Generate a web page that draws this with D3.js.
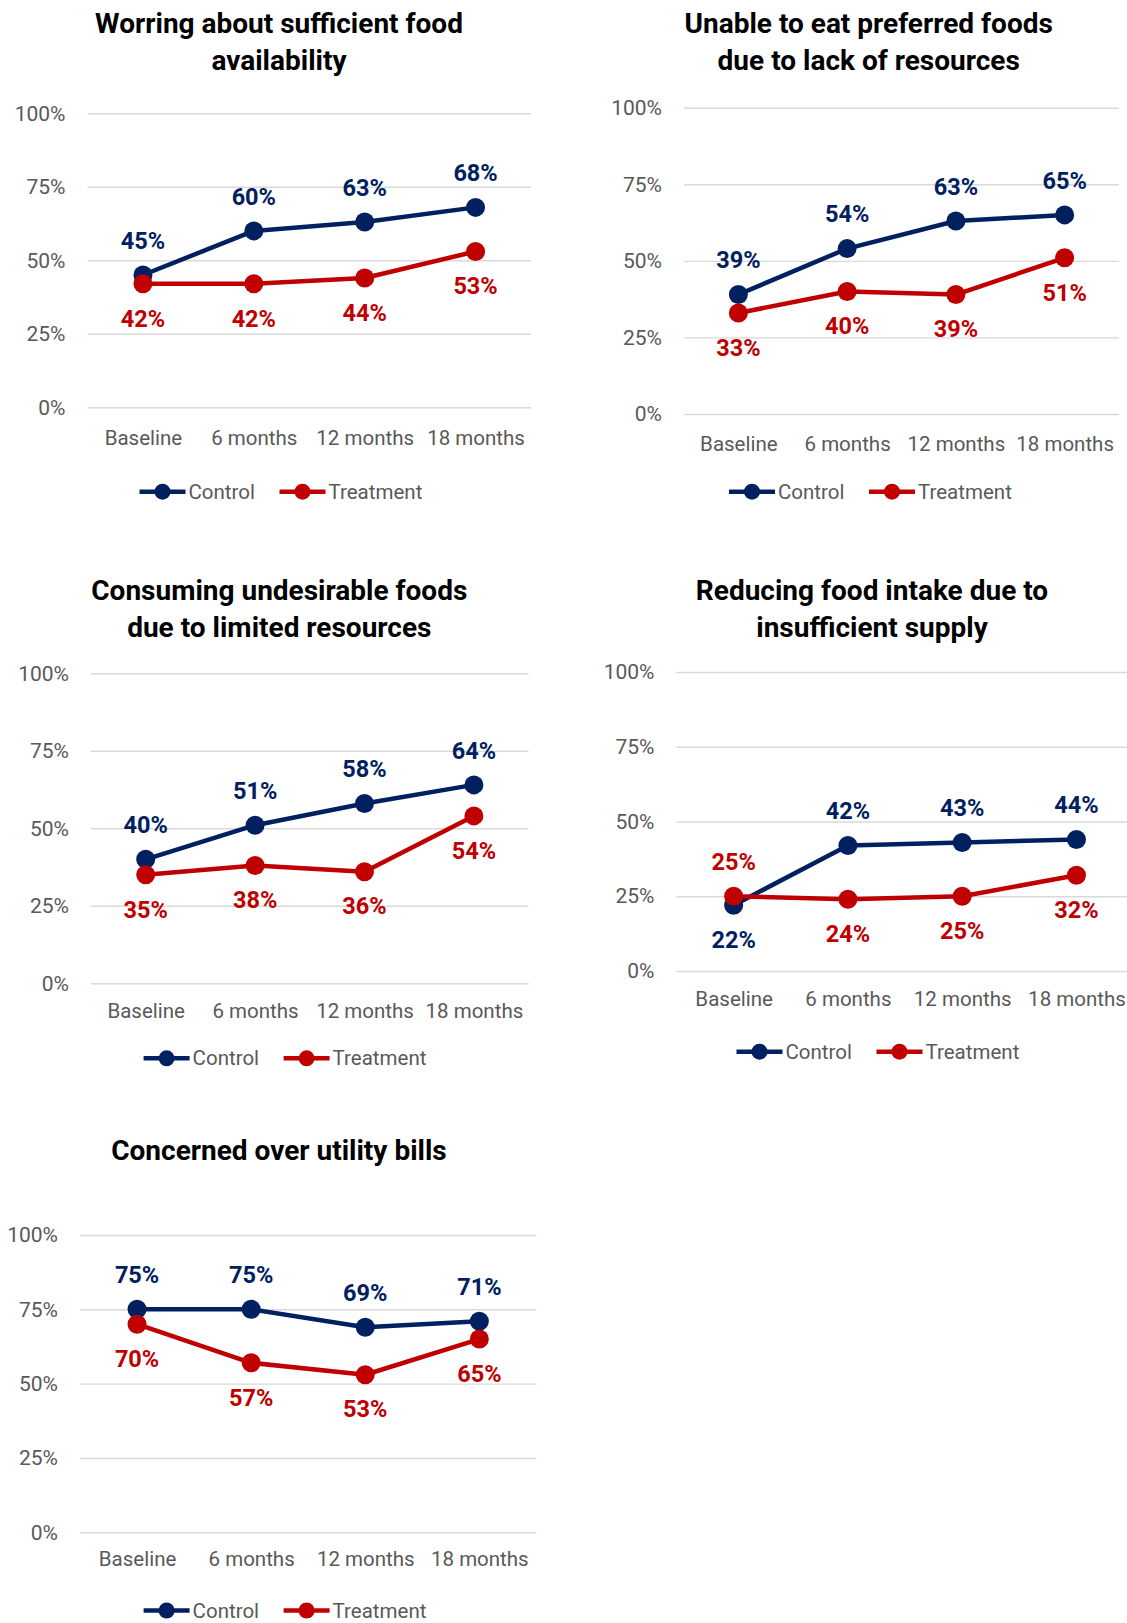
<!DOCTYPE html>
<html>
<head>
<meta charset="utf-8">
<script src="https://cdn.jsdelivr.net/npm/d3@7"></script>
<style>
  html, body { margin: 0; padding: 0; background: #ffffff; }
  svg { display: block; font-family: Roboto, "Noto Sans", sans-serif; }
</style>
</head>
<body>
<svg id="chart" width="1127" height="1623"></svg>
<script>
// Survey waves shown on every panel
const categories = ["Baseline", "6 months", "12 months", "18 months"];
const seriesNames = ["Control", "Treatment"];
const yTicks = [0, 25, 50, 75, 100];

// Panel titles (one entry per line)
const titleWorry = ["Worring about sufficient food", "availability"];
const titlePreferred = ["Unable to eat preferred foods", "due to lack of resources"];
const titleUndesirable = ["Consuming undesirable foods", "due to limited resources"];
const titleReducing = ["Reducing food intake due to", "insufficient supply"];
const titleUtility = ["Concerned over utility bills"];

// Share of respondents (%) per wave
const controlWorry = [45, 60, 63, 68];
const treatmentWorry = [42, 42, 44, 53];
const controlPreferred = [39, 54, 63, 65];
const treatmentPreferred = [33, 40, 39, 51];
const controlUndesirable = [40, 51, 58, 64];
const treatmentUndesirable = [35, 38, 36, 54];
const controlReducing = [22, 42, 43, 44];
const treatmentReducing = [25, 24, 25, 32];
const controlUtility = [75, 75, 69, 71];
const treatmentUtility = [70, 57, 53, 65];

const COLORS = { Control: "#002060", Treatment: "#C00000" };
const GRID = "#d9d9d9";
const AXIS_TEXT = "#595959";

// Layout of each small multiple
const panels = [
  { title: titleWorry, control: controlWorry, treatment: treatmentWorry,
    x0: 87.5, x1: 531, yTop: 113.3, yBottom: 407.3, catOffset: 30.5,
    titleX: 279, titleY: [23.5, 60.5], legendX: 139.5, legendY: 491.7, swapLabels: [] },
  { title: titlePreferred, control: controlPreferred, treatment: treatmentPreferred,
    x0: 684, x1: 1119, yTop: 107.7, yBottom: 414, catOffset: 29.5,
    titleX: 868.7, titleY: [23.5, 60.5], legendX: 729, legendY: 491.7, swapLabels: [] },
  { title: titleUndesirable, control: controlUndesirable, treatment: treatmentUndesirable,
    x0: 91, x1: 528.6, yTop: 673.3, yBottom: 983.3, catOffset: 27.5,
    titleX: 279.3, titleY: [590, 627], legendX: 143.6, legendY: 1058.3, swapLabels: [] },
  { title: titleReducing, control: controlReducing, treatment: treatmentReducing,
    x0: 676.5, x1: 1133.6, yTop: 672, yBottom: 971, catOffset: 28,
    titleX: 872, titleY: [590, 627], legendX: 736.5, legendY: 1051.7, swapLabels: [0] },
  { title: titleUtility, control: controlUtility, treatment: treatmentUtility,
    x0: 80, x1: 536.4, yTop: 1235, yBottom: 1532.3, catOffset: 27,
    titleX: 279, titleY: [1150], legendX: 143.6, legendY: 1610.5, swapLabels: [] }
];

const svg = d3.select("#chart");

panels.forEach(p => {
  const g = svg.append("g");

  const x = d3.scalePoint().domain(categories).range([p.x0, p.x1]).padding(0.5);
  const y = d3.scaleLinear().domain([0, 100]).range([p.yBottom, p.yTop]);

  // Title
  g.append("text")
    .attr("text-anchor", "middle")
    .attr("font-size", 28)
    .attr("font-weight", 700)
    .attr("fill", "#000")
    .selectAll("tspan")
    .data(p.title)
    .join("tspan")
      .attr("x", p.titleX)
      .attr("y", (d, i) => p.titleY[i])
      .attr("dy", "0.35em")
      .text(d => d);

  // Value axis with horizontal gridlines
  const yAxis = g.append("g")
    .attr("transform", `translate(${p.x0},0)`)
    .call(d3.axisLeft(y)
      .tickValues(yTicks)
      .tickFormat(d => d + "%")
      .tickSize(-(p.x1 - p.x0))
      .tickPadding(22));
  yAxis.select(".domain").remove();
  yAxis.selectAll(".tick line").attr("stroke", GRID).attr("stroke-width", 1.4);
  yAxis.selectAll(".tick text")
    .attr("font-size", 21).attr("fill", AXIS_TEXT)
    .attr("font-family", "Roboto, sans-serif");

  // Category axis
  const xAxis = g.append("g")
    .attr("transform", `translate(0,${p.yBottom})`)
    .call(d3.axisBottom(x).tickSize(0).tickPadding(0));
  xAxis.select(".domain").remove();
  xAxis.selectAll(".tick text")
    .attr("y", p.catOffset).attr("dy", "0.35em")
    .attr("font-size", 20.5).attr("fill", AXIS_TEXT)
    .attr("font-family", "Roboto, sans-serif");

  const line = d3.line().x((d, i) => x(categories[i])).y(d => y(d));

  const series = [
    { name: "Control", values: p.control, side: -1 },
    { name: "Treatment", values: p.treatment, side: 1 }
  ];

  series.forEach(s => {
    const color = COLORS[s.name];
    g.append("path")
      .datum(s.values)
      .attr("d", line)
      .attr("fill", "none")
      .attr("stroke", color)
      .attr("stroke-width", 4.5)
      .attr("stroke-linejoin", "round");
    g.selectAll(null)
      .data(s.values)
      .join("circle")
        .attr("cx", (d, i) => x(categories[i]))
        .attr("cy", d => y(d))
        .attr("r", 9.5)
        .attr("fill", color);
  });

  // Data labels: control above, treatment below (swapped where the lines cross)
  series.forEach(s => {
    const color = COLORS[s.name];
    g.selectAll(null)
      .data(s.values)
      .join("text")
        .attr("x", (d, i) => x(categories[i]))
        .attr("y", (d, i) => {
          const side = p.swapLabels.includes(i) ? -s.side : s.side;
          return y(d) + side * 34.5;
        })
        .attr("dy", "0.35em")
        .attr("text-anchor", "middle")
        .attr("font-size", 23.5)
        .attr("font-weight", 700)
        .attr("fill", color)
        .text(d => d + "%");
  });

  // Legend
  const legend = g.append("g").attr("transform", `translate(${p.legendX},${p.legendY})`);
  seriesNames.forEach((name, i) => {
    const item = legend.append("g").attr("transform", `translate(${i * 140},0)`);
    item.append("line")
      .attr("x1", 0).attr("x2", 46).attr("y1", 0).attr("y2", 0)
      .attr("stroke", COLORS[name]).attr("stroke-width", 4.5);
    item.append("circle")
      .attr("cx", 23).attr("cy", 0).attr("r", 8)
      .attr("fill", COLORS[name]);
    item.append("text")
      .attr("x", 49).attr("y", 0).attr("dy", "0.35em")
      .attr("font-size", 20.5).attr("fill", AXIS_TEXT)
      .text(name);
  });
});
</script>
</body>
</html>
